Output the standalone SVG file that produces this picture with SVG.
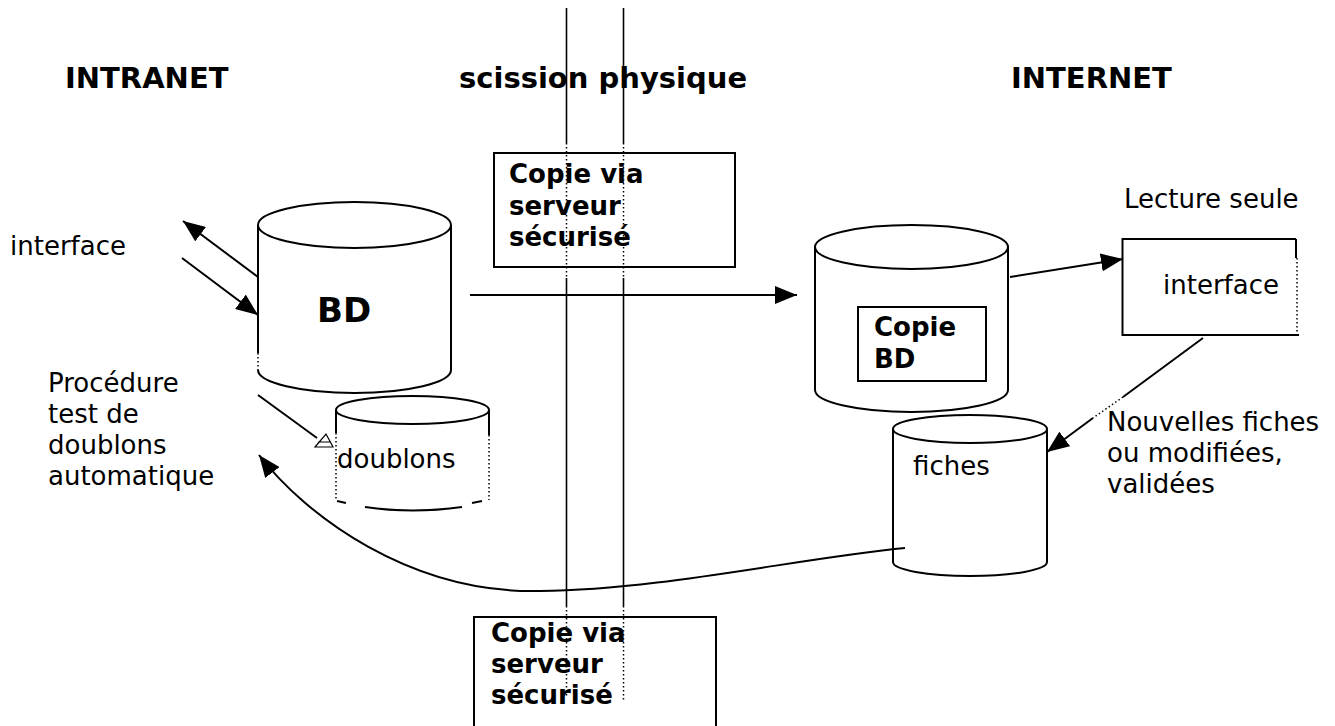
<svg xmlns="http://www.w3.org/2000/svg" width="1335" height="726" viewBox="0 0 1335 726">
<defs>
<style>
text{font-family:"DejaVu Sans","Verdana","Liberation Sans",sans-serif;fill:#000}
.r{font-size:26px}
.b{font-size:26px;font-weight:bold}
.h{font-size:29px;font-weight:bold}
.s{fill:none;stroke:#000;stroke-width:2}
.w{fill:#fff;stroke:none}
.sep{fill:none;stroke:#000;stroke-width:1.6}
.dot{fill:none;stroke:#000;stroke-width:1.5;stroke-dasharray:1.5 2.5}
.c{fill:none;stroke:#000;stroke-width:2}
</style>
<marker id="ah" viewBox="0 0 22 18" markerWidth="22" markerHeight="18" refX="22" refY="9" orient="auto" markerUnits="userSpaceOnUse">
<path d="M0,0 L22,9 L0,18 z" fill="#000"/>
</marker>
</defs>
<rect width="1335" height="726" fill="#fff"/>

<g id="labels">
<text class="h" x="65" y="88">INTRANET</text>
<text class="h" x="459" y="88">scission physique</text>
<text class="h" x="1011" y="88">INTERNET</text>
<text class="r" x="10" y="255">interface</text>
<text class="r" x="48" y="392">Procédure</text>
<text class="r" x="48" y="423">test de</text>
<text class="r" x="48" y="454">doublons</text>
<text class="r" x="48" y="485">automatique</text>
<text class="r" x="1124" y="208">Lecture seule</text>
<text class="r" x="1107" y="431">Nouvelles fiches</text>
<text class="r" x="1107" y="462">ou modifiées,</text>
<text class="r" x="1107" y="493">validées</text>
</g>

<g id="box-top">
<rect class="s" x="494" y="153" width="241" height="114" fill="#fff"/>
<text class="b" x="509" y="183">Copie via</text>
<text class="b" x="509" y="215">serveur</text>
<text class="b" x="509" y="246">sécurisé</text>
</g>

<g id="box-bottom">
<rect class="s" x="474" y="617" width="242" height="120" fill="#fff"/>
<text class="b" x="491" y="642">Copie via</text>
<text class="b" x="491" y="673">serveur</text>
<text class="b" x="491" y="704">sécurisé</text>
</g>

<g id="separation">
<line class="sep" x1="566.5" y1="8" x2="566.5" y2="143"/>
<line class="dot" x1="566.5" y1="143" x2="566.5" y2="278"/>
<line class="sep" x1="566.5" y1="278" x2="566.5" y2="606"/>
<line class="dot" x1="566.5" y1="606" x2="566.5" y2="697"/>
<line class="sep" x1="623.5" y1="8" x2="623.5" y2="143"/>
<line class="dot" x1="623.5" y1="143" x2="623.5" y2="278"/>
<line class="sep" x1="623.5" y1="278" x2="623.5" y2="606"/>
<line class="dot" x1="623.5" y1="606" x2="623.5" y2="700"/>
</g>

<g id="bd">
<path class="w" d="M258,225 V370 A96.5,23 0 0 0 451,370 V225 z"/>
<path class="s" d="M258,370 A96.5,23 0 0 0 451,370 V225"/>
<line class="s" x1="258" y1="225" x2="258" y2="353"/>
<line class="dot" x1="258" y1="353" x2="258" y2="372"/>
<ellipse class="s" cx="354.5" cy="225" rx="96.5" ry="23" fill="#fff"/>
<text x="317" y="322" style="font-size:34px;font-weight:bold">BD</text>
</g>

<g id="doublons">
<path class="w" d="M336,410 V497 A76.5,14 0 0 0 489,497 V410 z"/>
<line class="s" x1="336" y1="410" x2="336" y2="433"/>
<line class="dot" x1="336" y1="433" x2="336" y2="500"/>
<line class="s" x1="489" y1="410" x2="489" y2="435"/>
<line class="dot" x1="489" y1="435" x2="489" y2="500"/>
<path class="s" d="M365,507 Q412,514 462,507"/>
<path class="s" d="M337,501 L346,503 M472,503 L482,501"/>
<ellipse class="s" cx="412.5" cy="410" rx="76.5" ry="14" fill="#fff"/>
<text class="r" x="337" y="468">doublons</text>
</g>

<g id="copie-bd">
<path class="w" d="M815,247 V390 A96.5,22 0 0 0 1008,390 V247 z"/>
<path class="s" d="M815,247 V390 A96.5,22 0 0 0 1008,390 V247"/>
<ellipse class="s" cx="911.5" cy="247" rx="96.5" ry="22" fill="#fff"/>
<rect class="s" x="858" y="307" width="128" height="74" fill="#fff"/>
<text class="b" x="874" y="336">Copie</text>
<text class="b" x="874" y="368">BD</text>
</g>

<g id="fiches">
<path class="w" d="M893,429 V562 A77,14 0 0 0 1047,562 V429 z"/>
<path class="s" d="M893,429 V562 A77,14 0 0 0 1047,562 V429"/>
<ellipse class="s" cx="970" cy="429" rx="77" ry="14" fill="#fff"/>
<text class="r" x="913" y="475">fiches</text>
</g>

<g id="interface">
<path class="s" d="M1296,239 H1122.5 V335 H1299"/>
<line class="s" x1="1296" y1="239" x2="1296" y2="258"/>
<line class="dot" x1="1297" y1="258" x2="1297" y2="335"/>
<text class="r" x="1163" y="294">interface</text>
</g>

<g id="connectors">
<line class="c" x1="258" y1="277" x2="183" y2="221" marker-end="url(#ah)"/>
<line class="c" x1="182" y1="258" x2="258" y2="315" marker-end="url(#ah)"/>
<line class="c" x1="470" y1="295" x2="797" y2="295" marker-end="url(#ah)"/>
<line class="c" x1="1010" y1="277" x2="1123" y2="259" marker-end="url(#ah)"/>
<line class="c" x1="1203" y1="338" x2="1123" y2="397"/>
<line class="dot" x1="1123" y1="397" x2="1093" y2="418"/>
<line class="c" x1="1093" y1="418" x2="1047" y2="452" marker-end="url(#ah)"/>
<line class="c" x1="258" y1="395" x2="317" y2="438"/>
<path d="M315,447 L326,434 L333,447 Z M318,442 H331" fill="#fff" stroke="#000" stroke-width="1.2"/>
<path class="c" d="M905,548 C800,558 660,590 540,591 C410,594 305,515 259,455" marker-end="url(#ah)"/>
</g>
</svg>
